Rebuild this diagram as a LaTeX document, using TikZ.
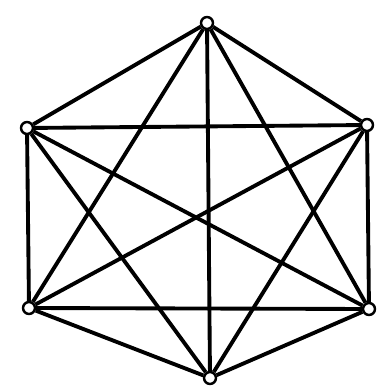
\documentclass[tikz,border=0pt]{standalone}
\begin{document}
\begin{tikzpicture}[x=0.02cm,y=-0.02cm,
  vtx/.style={circle,draw,line width=1.4pt,fill=white,inner sep=0pt,minimum size=6.8pt},
  edge/.style={line width=2.2pt}]
\useasboundingbox (0,0) rectangle (382,388);
\node[vtx] (t) at (207,23) {};
\node[vtx] (ul) at (27,128) {};
\node[vtx] (ur) at (367,125) {};
\node[vtx] (ll) at (29,308) {};
\node[vtx] (lr) at (369,309) {};
\node[vtx] (b) at (210,378) {};
\draw[edge] (t) -- (ul);
\draw[edge] (t) -- (ur);
\draw[edge] (t) -- (ll);
\draw[edge] (t) -- (lr);
\draw[edge] (t) -- (b);
\draw[edge] (ul) -- (ur);
\draw[edge] (ul) -- (ll);
\draw[edge] (ul) -- (lr);
\draw[edge] (ul) -- (b);
\draw[edge] (ur) -- (ll);
\draw[edge] (ur) -- (lr);
\draw[edge] (ur) -- (b);
\draw[edge] (ll) -- (lr);
\draw[edge] (ll) -- (b);
\draw[edge] (lr) -- (b);
\end{tikzpicture}
\end{document}
